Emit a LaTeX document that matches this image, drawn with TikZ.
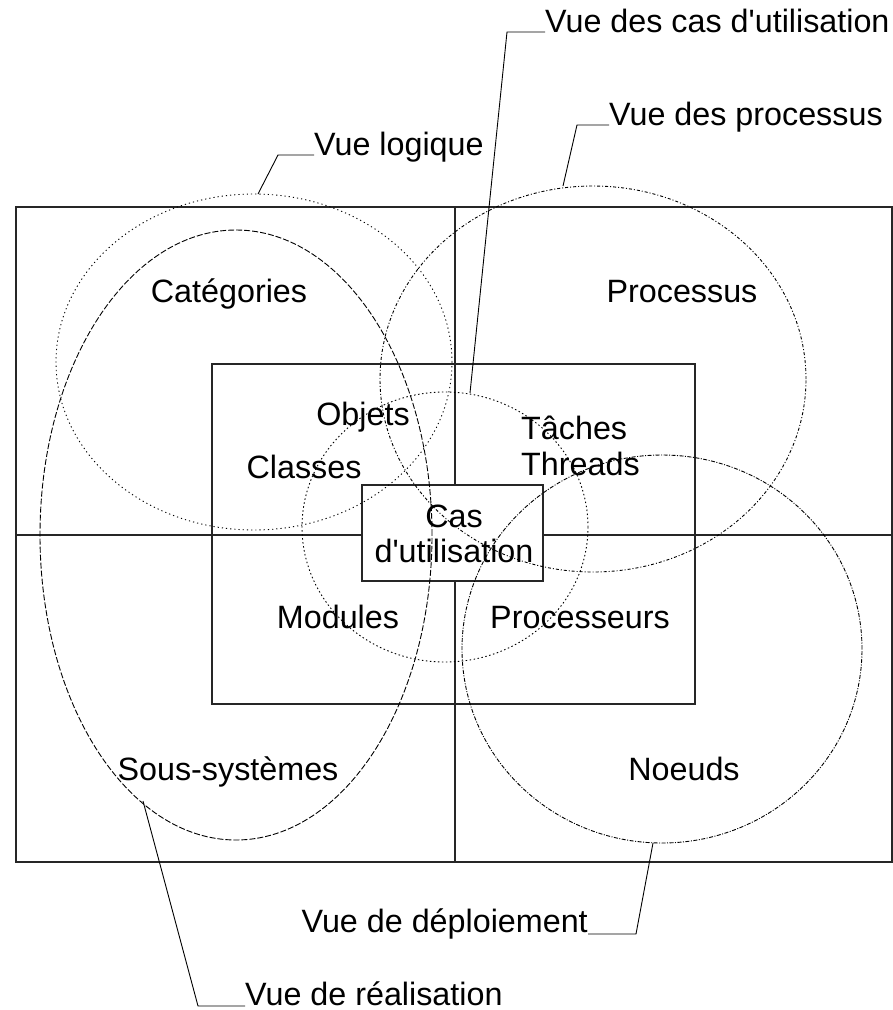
\documentclass[tikz,border=0pt]{standalone}
\usepackage{fontspec}
\defaultfontfeatures[\rmfamily]{}
\setmainfont{Liberation Sans}
\usetikzlibrary{shapes.geometric}
\newcommand{\apos}{{\char"27}}
\begin{document}
\begin{tikzpicture}[x=1pt,y=-1pt,
  frame/.style={draw=black!85,line width=1.2pt},
  oval/.style={draw=black,ellipse,inner sep=0pt,line width=0.9pt},
  lead/.style={draw=black,line width=0.9pt},
  lbl/.style={font=\fontsize{32.3}{38}\selectfont,inner sep=0pt},
  dlog/.style={dash pattern=on 1.2pt off 3pt},
  dreal/.style={dash pattern=on 6pt off 2pt},
  dproc/.style={dash pattern=on 3pt off 2pt on 1pt off 2pt},
  dcas/.style={dash pattern=on 1.5pt off 2.5pt},
  ddep/.style={dash pattern=on 4pt off 1.5pt on 1pt off 1.5pt}]
\useasboundingbox (0,0) rectangle (893,1010);
% frames
\draw[frame] (16,207) rectangle (892,862);
\draw[frame] (455,207) -- (455,862);
\draw[frame] (16,535) -- (892,535);
\draw[frame] (212,364) rectangle (695,704);
\draw[frame,fill=white] (362,485) rectangle (543,581);
% ovals
\node[oval,dlog,minimum width=396pt,minimum height=336pt] (vlog) at (254,362) {};
\node[oval,dreal,minimum width=392pt,minimum height=610pt] (vreal) at (236,535) {};
\node[oval,dproc,minimum width=426pt,minimum height=386pt] (vproc) at (593,379) {};
\node[oval,dcas,minimum width=286pt,minimum height=270pt] (vcas) at (445,527) {};
\node[oval,ddep,minimum width=400pt,minimum height=388pt] (vdep) at (662,649) {};
% inner labels
\node[lbl,anchor=base] (cat) at (229,302) {Catégories};
\node[lbl,anchor=base] (proc) at (682,302) {Processus};
\node[lbl,anchor=base] (obj) at (363,425) {Objets};
\node[lbl,anchor=base] (cla) at (304,478) {Classes};
\node[lbl,anchor=base west] (tac) at (521,439) {Tâches};
\node[lbl,anchor=base west] (thr) at (521,475) {Threads};
\node[lbl,anchor=base] (cas1) at (454,527) {Cas};
\node[lbl,anchor=base] (cas2) at (454,562) {d\apos utilisation};
\node[lbl,anchor=base] (mod) at (338,628) {Modules};
\node[lbl,anchor=base] (prs) at (580,628) {Processeurs};
\node[lbl,anchor=base] (sous) at (228,780) {Sous-systèmes};
\node[lbl,anchor=base] (noe) at (684,780) {Noeuds};
% view labels
\node[lbl,anchor=base west] (tlog) at (314,155) {Vue logique};
\node[lbl,anchor=base west] (tcas) at (545,32) {Vue des cas d\apos utilisation};
\node[lbl,anchor=base west] (tproc) at (609,125) {Vue des processus};
\node[lbl,anchor=base east] (tdep) at (588,932) {Vue de déploiement};
\node[lbl,anchor=base west] (treal) at (245,1005) {Vue de réalisation};
% leader points
\coordinate (plog) at (258,194);
\coordinate (clog) at (278,155);
\coordinate (pcas) at (470,393);
\coordinate (ccas) at (507,32);
\coordinate (pproc) at (563,186);
\coordinate (cproc) at (577,125);
\coordinate (pdep) at (653,843);
\coordinate (cdep) at (636,934);
\coordinate (preal) at (143,801);
\coordinate (creal) at (198,1006);
\draw[lead] (plog) -- (clog) -- (tlog.base west);
\draw[lead] (pcas) -- (ccas) -- (tcas.base west);
\draw[lead] (pproc) -- (cproc) -- (tproc.base west);
\draw[lead] (pdep) -- (cdep) -- (tdep.base east |- cdep);
\draw[lead] (preal) -- (creal) -- (treal.west |- creal);
\end{tikzpicture}
\end{document}
